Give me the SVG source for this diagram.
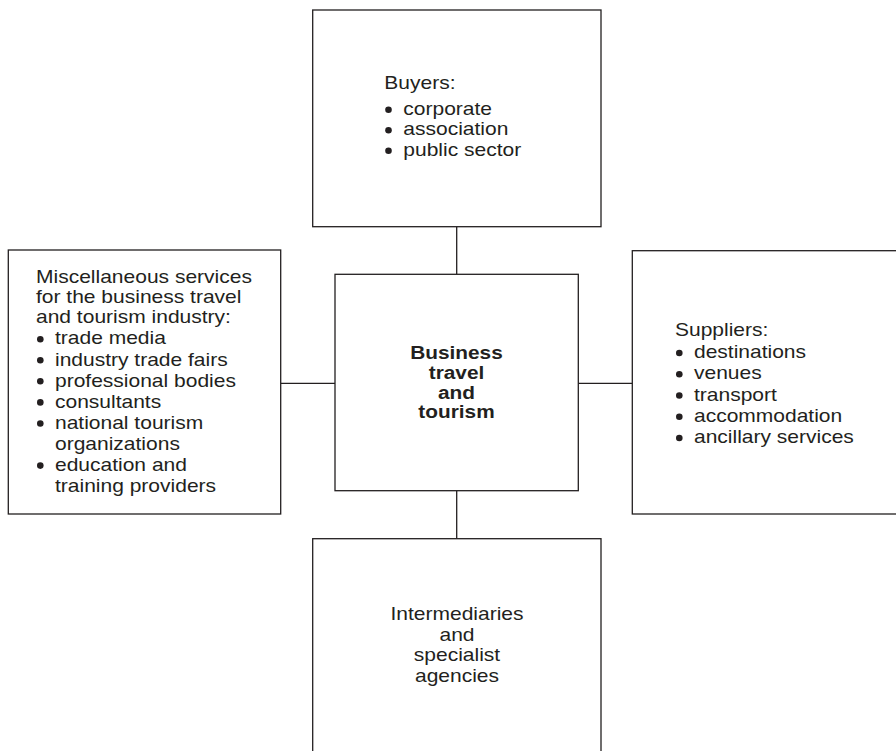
<svg xmlns="http://www.w3.org/2000/svg" width="896" height="751" viewBox="0 0 896 751">
<style>
.box{fill:#fff;stroke:#231f20;stroke-width:1.3}
.ln{stroke:#231f20;stroke-width:1.3;fill:none}
.t{font-family:"Liberation Sans",Arial,Helvetica,sans-serif;font-size:18.6px;fill:#231f20}
.c{text-anchor:middle}
.b{font-weight:bold}
.dot{fill:#231f20}
</style>
<rect width="896" height="751" fill="#fff"/>
<g id="connectors">
<line class="ln" x1="456.7" y1="226.7" x2="456.7" y2="274.3"/>
<line class="ln" x1="456.7" y1="490.7" x2="456.7" y2="538.7"/>
<line class="ln" x1="280.7" y1="383.3" x2="335" y2="383.3"/>
<line class="ln" x1="578.3" y1="383.3" x2="632.3" y2="383.3"/>
</g>
<g id="buyers">
<rect class="box" x="312.7" y="10" width="288.3" height="216.7"/>
<g transform="matrix(1.13,0,0,1,384.3,0)">
<text class="t" x="0" y="89.5">Buyers:</text>
<text class="t" x="16.8" y="115">corporate</text>
<text class="t" x="16.8" y="135.5">association</text>
<text class="t" x="16.8" y="156">public sector</text>
</g>
<circle class="dot" cx="388.5" cy="109.7" r="3.3"/>
<circle class="dot" cx="388.5" cy="130.2" r="3.3"/>
<circle class="dot" cx="388.5" cy="150.7" r="3.3"/>
</g>
<g id="misc">
<rect class="box" x="8.3" y="250" width="272.4" height="264"/>
<g transform="matrix(1.13,0,0,1,36,0)">
<text class="t" x="0" y="283">Miscellaneous services</text>
<text class="t" x="0" y="303">for the business travel</text>
<text class="t" x="0" y="323">and tourism industry:</text>
<text class="t" x="16.8" y="344.5">trade media</text>
<text class="t" x="16.8" y="365.6">industry trade fairs</text>
<text class="t" x="16.8" y="386.6">professional bodies</text>
<text class="t" x="16.8" y="407.7">consultants</text>
<text class="t" x="16.8" y="428.8">national tourism</text>
<text class="t" x="16.8" y="449.9">organizations</text>
<text class="t" x="16.8" y="470.9">education and</text>
<text class="t" x="16.8" y="492">training providers</text>
</g>
<circle class="dot" cx="40.3" cy="339.2" r="3.3"/>
<circle class="dot" cx="40.3" cy="360.3" r="3.3"/>
<circle class="dot" cx="40.3" cy="381.3" r="3.3"/>
<circle class="dot" cx="40.3" cy="402.4" r="3.3"/>
<circle class="dot" cx="40.3" cy="423.5" r="3.3"/>
<circle class="dot" cx="40.3" cy="465.6" r="3.3"/>
</g>
<g id="center">
<rect class="box" x="335" y="274.3" width="243.3" height="216.4"/>
<g transform="matrix(1.12,0,0,1,456.5,0)">
<text class="t c b" x="0" y="359">Business</text>
<text class="t c b" x="0" y="379">travel</text>
<text class="t c b" x="0" y="399">and</text>
<text class="t c b" x="0" y="418.5">tourism</text>
</g>
</g>
<g id="suppliers">
<rect class="box" x="632.3" y="250.7" width="280" height="263.3"/>
<g transform="matrix(1.13,0,0,1,675,0)">
<text class="t" x="0" y="336.5">Suppliers:</text>
<text class="t" x="16.8" y="358.3">destinations</text>
<text class="t" x="16.8" y="379.5">venues</text>
<text class="t" x="16.8" y="400.8">transport</text>
<text class="t" x="16.8" y="422">accommodation</text>
<text class="t" x="16.8" y="443.3">ancillary services</text>
</g>
<circle class="dot" cx="679.3" cy="353" r="3.3"/>
<circle class="dot" cx="679.3" cy="374.2" r="3.3"/>
<circle class="dot" cx="679.3" cy="395.5" r="3.3"/>
<circle class="dot" cx="679.3" cy="416.7" r="3.3"/>
<circle class="dot" cx="679.3" cy="438" r="3.3"/>
</g>
<g id="intermediaries">
<rect class="box" x="312.7" y="538.7" width="288.3" height="230"/>
<g transform="matrix(1.13,0,0,1,457,0)">
<text class="t c" x="0" y="620.5">Intermediaries</text>
<text class="t c" x="0" y="641">and</text>
<text class="t c" x="0" y="661.5">specialist</text>
<text class="t c" x="0" y="682">agencies</text>
</g>
</g>
</svg>
